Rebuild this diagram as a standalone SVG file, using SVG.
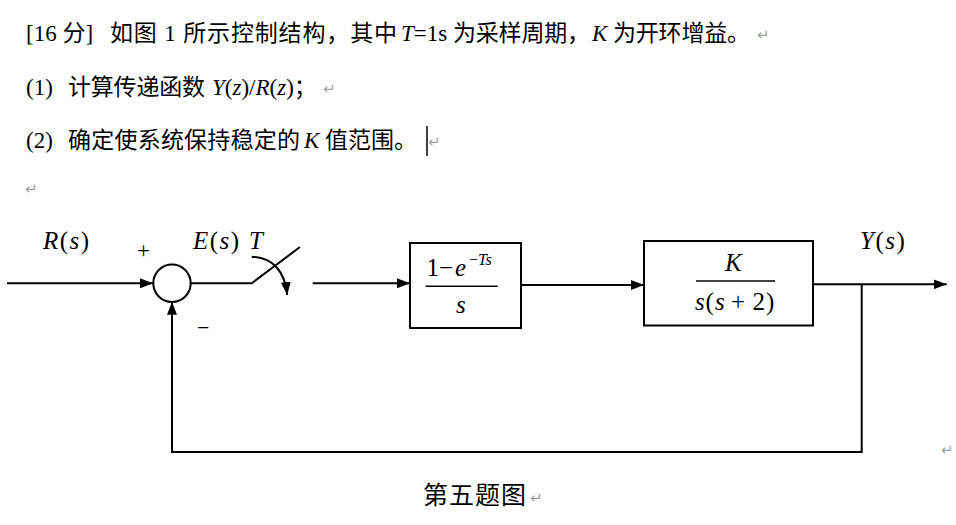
<svg xmlns="http://www.w3.org/2000/svg" width="956" height="525" viewBox="0 0 956 525">
<style>
.t{font-family:"Liberation Serif","Noto Sans CJK SC",serif;font-size:23px;fill:#000}
.m{font-family:"Liberation Serif",serif;font-size:25px;fill:#000}
.i{font-style:italic}
.ls{letter-spacing:1.5px}
.pm{font-family:"DejaVu Sans",sans-serif;font-size:15px;fill:#a0a0a0}
.ln{fill:none;stroke:#000;stroke-width:2}
.bx{fill:#fff;stroke:#000;stroke-width:2}
</style>
<defs>
<marker id="ah" viewBox="0 0 13 10" refX="13" refY="5" markerWidth="13" markerHeight="10" markerUnits="userSpaceOnUse" orient="auto"><path d="M0,0 L13,5 L0,10 z" fill="#000"/></marker>
</defs>
<rect width="956" height="525" fill="#fff"/>
<g id="question">
<text class="t" y="41"><tspan x="26">[16 分]</tspan><tspan x="110" textLength="287">如图 1 所示控制结构，其中</tspan><tspan x="401" class="i">T</tspan><tspan>=1s</tspan><tspan x="453" textLength="137">为采样周期，</tspan><tspan x="592" class="i">K</tspan><tspan x="613" textLength="137">为开环增益。</tspan></text>
<text class="pm" x="757" y="40">↵</text>
<text class="t" y="95"><tspan x="26">(1)</tspan><tspan x="68" textLength="137">计算传递函数</tspan><tspan x="212" class="i">Y</tspan><tspan>(</tspan><tspan class="i">z</tspan><tspan>)/</tspan><tspan class="i">R</tspan><tspan>(</tspan><tspan class="i">z</tspan><tspan>)；</tspan></text>
<text class="pm" x="323" y="94">↵</text>
<text class="t" y="148"><tspan x="26">(2)</tspan><tspan x="68" textLength="232">确定使系统保持稳定的</tspan><tspan x="304" class="i">K</tspan><tspan x="325" textLength="92">值范围。</tspan></text>
<line x1="427" y1="126" x2="427" y2="156" stroke="#000" stroke-width="1.5"/>
<text class="pm" x="428" y="147">↵</text>
<text class="pm" x="25" y="194">↵</text>
</g>
<g id="connectors">
<path class="ln" d="M7,283.3 H153" marker-end="url(#ah)"/>
<path class="ln" d="M190.7,283.3 H251.7 L300,247"/>
<path class="ln" d="M251.7,256.7 Q283,258 287.3,295" marker-end="url(#ah)"/>
<path class="ln" d="M312.7,283.3 H410" marker-end="url(#ah)"/>
<path class="ln" d="M521,285 H644" marker-end="url(#ah)"/>
<path class="ln" d="M813,284.3 H946.7" marker-end="url(#ah)"/>
<path class="ln" d="M861.7,284.3 V452 H172 V301.7" marker-end="url(#ah)"/>
</g>
<g id="labels">
<text class="m ls" y="249"><tspan x="43" class="i">R</tspan><tspan>(</tspan><tspan class="i">s</tspan><tspan>)</tspan></text>
<text class="m ls" y="249"><tspan x="193" class="i">E</tspan><tspan>(</tspan><tspan class="i">s</tspan><tspan>)</tspan></text>
<text class="m i" x="249" y="249">T</text>
<text class="m ls" y="249"><tspan x="860" class="i">Y</tspan><tspan>(</tspan><tspan class="i">s</tspan><tspan>)</tspan></text>
<text class="m" style="font-size:23px" x="137" y="258">+</text>
<text class="m" style="font-size:22px" x="197" y="335">−</text>
</g>
<g id="sum">
<circle class="bx" cx="172" cy="283.3" r="18.7"/>
</g>
<g id="zoh">
<rect class="bx" x="410" y="243" width="111" height="85"/>
<text class="m" y="276"><tspan x="426.5">1</tspan><tspan x="439">−</tspan><tspan x="455" class="i">e</tspan></text>
<text class="m" style="font-size:16px" y="265"><tspan x="469">−</tspan><tspan class="i">Ts</tspan></text>
<line x1="425.7" y1="286.3" x2="497.7" y2="286.3" stroke="#000" stroke-width="1.5"/>
<text class="m i" x="456" y="313">s</text>
</g>
<g id="plant">
<rect class="bx" x="644" y="241" width="169" height="84.5"/>
<text class="m i" x="725" y="271">K</text>
<line x1="696" y1="281" x2="775" y2="281" stroke="#000" stroke-width="1.5"/>
<text class="m" y="310"><tspan x="695" class="i">s</tspan><tspan x="705.5">(</tspan><tspan x="715" class="i">s</tspan><tspan x="731">+</tspan><tspan x="752.5">2</tspan><tspan x="766">)</tspan></text>
</g>
<g id="caption">
<text class="t" style="font-size:25px;letter-spacing:1px" x="423" y="504">第五题图</text>
<text class="pm" x="530" y="503">↵</text>
<text class="pm" x="941" y="455">↵</text>
</g>
</svg>
